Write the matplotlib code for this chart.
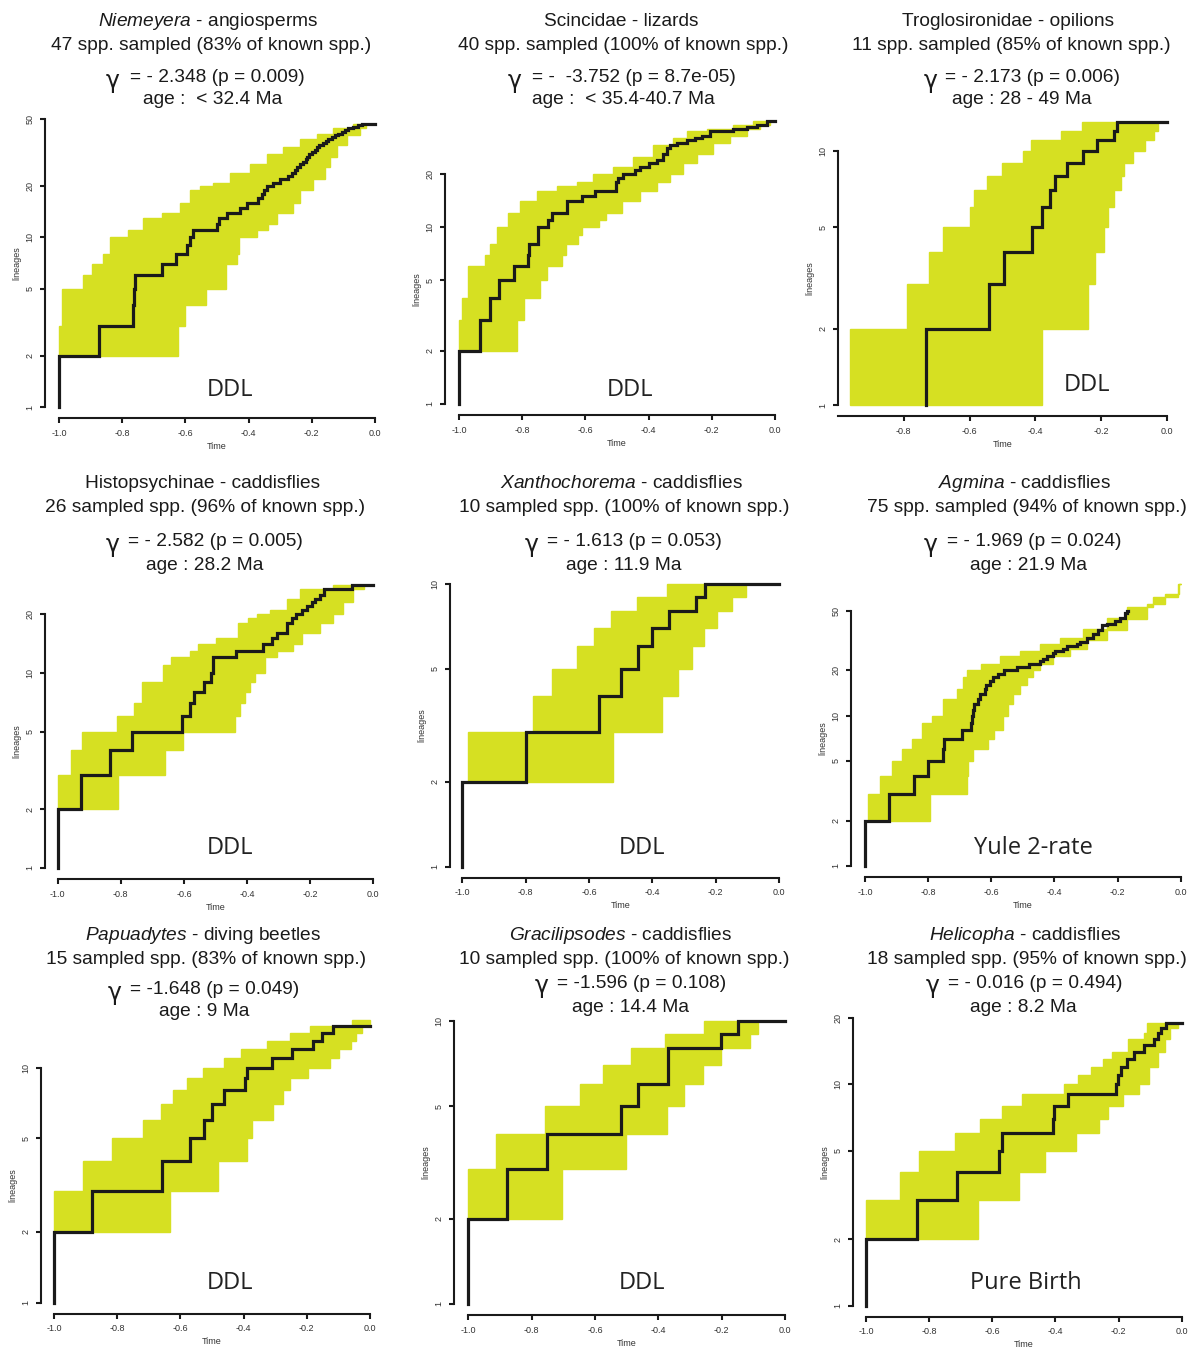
import matplotlib
matplotlib.use('Agg')
import matplotlib.pyplot as plt
from matplotlib.ticker import NullLocator

plt.rcParams['font.family'] = ['Liberation Sans', 'DejaVu Sans']
plt.rcParams['mathtext.fontset'] = 'custom'
plt.rcParams['mathtext.rm'] = 'Liberation Sans'
plt.rcParams['mathtext.it'] = 'Liberation Sans:italic'

W, H = 1200, 1359
YELLOW = '#d6e022'
INK = '#1a1a1a'

# ---------------- data (lineage-through-time, time scaled to -1..0) ----------------
# black line = observed tree: time of each step, lineage count after that step
niem_t = [-1.0, -0.873, -0.767, -0.763, -0.759, -0.673, -0.631, -0.596, -0.585, -0.577,
          -0.499, -0.493, -0.469, -0.427, -0.406, -0.369, -0.359, -0.351, -0.343, -0.322,
          -0.301, -0.274, -0.264, -0.253, -0.248, -0.237, -0.227, -0.218, -0.214, -0.208,
          -0.200, -0.190, -0.185, -0.176, -0.163, -0.155, -0.148, -0.137, -0.127, -0.116,
          -0.105, -0.095, -0.084, -0.069, -0.053, -0.042]
niem_n = [2, 3, 4, 5, 6, 7, 8, 9, 10, 11, 12, 13, 14, 15, 16, 17, 18, 19, 20, 21, 22, 23,
          24, 25, 26, 27, 28, 29, 30, 31, 32, 33, 34, 35, 36, 37, 38, 39, 40, 41, 42, 43,
          44, 45, 46, 47]
# yellow cloud = envelope of the posterior trees (upper / lower step limits)
niem_up_t = [-1.0, -0.992, -0.923, -0.897, -0.860, -0.839, -0.781, -0.733, -0.673, -0.617,
             -0.585, -0.554, -0.512, -0.459, -0.396, -0.343, -0.290, -0.237, -0.185, -0.132, -0.069]
niem_up_n = [3, 5, 6, 7, 8, 10, 11, 13, 14, 16, 19, 20, 21, 24, 27, 31, 34, 38, 41, 44, 47]
niem_lo_t = [-1.0, -0.624, -0.601, -0.535, -0.470, -0.437, -0.430, -0.375, -0.340, -0.311,
             -0.258, -0.237, -0.195, -0.158, -0.142, -0.121, -0.090, -0.048, -0.027]
niem_lo_n = [2, 3, 4, 5, 7, 8, 10, 11, 12, 14, 16, 19, 22, 26, 30, 35, 40, 44, 47]

scin_t = [-1.0, -0.934, -0.902, -0.872, -0.825, -0.781, -0.777, -0.749, -0.719, -0.707,
          -0.659, -0.612, -0.570, -0.503, -0.496, -0.482, -0.443, -0.427, -0.398, -0.374,
          -0.353, -0.343, -0.332, -0.311, -0.280, -0.253, -0.232, -0.206, -0.132, -0.090,
          -0.058, -0.026]
scin_n = [2, 3, 4, 5, 6, 7, 8, 10, 11, 12, 14, 15, 16, 18, 19, 20, 21, 22, 23, 24, 26, 28,
          29, 30, 31, 32, 33, 35, 36, 37, 38, 40]
scin_up_t = [-1.0, -0.992, -0.970, -0.918, -0.902, -0.881, -0.844, -0.807, -0.754, -0.691,
             -0.628, -0.575, -0.512, -0.448, -0.385, -0.322, -0.280, -0.216, -0.132, -0.069]
scin_up_n = [3, 4, 6, 7, 8, 10, 12, 14, 16, 17, 18, 20, 22, 25, 29, 32, 35, 36, 38, 40]
scin_lo_t = [-1.0, -0.815, -0.794, -0.745, -0.722, -0.673, -0.660, -0.623, -0.610, -0.556,
             -0.535, -0.483, -0.427, -0.374, -0.332, -0.290, -0.248, -0.195, -0.142, -0.090,
             -0.048, -0.016]
scin_lo_n = [2, 3, 4, 5, 6, 7, 8, 9, 10, 11, 12, 14, 16, 18, 20, 23, 26, 30, 33, 36, 38, 40]

trog_t = [-0.734, -0.540, -0.494, -0.411, -0.379, -0.355, -0.340, -0.305, -0.254, -0.213,
          -0.162, -0.152]
trog_n = [2, 3, 4, 5, 6, 7, 8, 9, 10, 11, 12, 13]
trog_up_t = [-0.964, -0.790, -0.724, -0.680, -0.599, -0.587, -0.546, -0.503, -0.437, -0.414,
             -0.322, -0.259]
trog_up_n = [2, 3, 4, 5, 6, 7, 8, 9, 10, 11, 12, 13]
trog_lo_t = [-0.964, -0.381, -0.239, -0.220, -0.193, -0.178, -0.162, -0.140, -0.132, -0.104,
             -0.066, -0.041, -0.027]
trog_lo_n = [1, 2, 3, 4, 5, 6, 7, 8, 9, 10, 11, 12, 13]

hist_t = [-1.0, -0.927, -0.834, -0.763, -0.607, -0.581, -0.567, -0.536, -0.515, -0.507,
          -0.435, -0.348, -0.320, -0.306, -0.275, -0.259, -0.245, -0.227, -0.211, -0.195,
          -0.185, -0.169, -0.155, -0.069]
hist_n = [2, 3, 4, 5, 6, 7, 8, 9, 10, 12, 13, 14, 15, 16, 18, 19, 20, 21, 22, 23, 24, 25, 27, 28]
hist_up_t = [-1.0, -0.958, -0.922, -0.813, -0.757, -0.734, -0.665, -0.642, -0.581, -0.557,
             -0.498, -0.428, -0.396, -0.370, -0.327, -0.275, -0.232, -0.127]
hist_up_n = [3, 4, 5, 6, 7, 9, 11, 12, 13, 14, 15, 18, 19, 20, 21, 24, 27, 28]
hist_lo_t = [-1.0, -0.808, -0.660, -0.604, -0.438, -0.422, -0.407, -0.391, -0.375, -0.343,
             -0.306, -0.253, -0.227, -0.169, -0.127, -0.095, -0.064, -0.030]
hist_lo_n = [2, 3, 4, 5, 6, 7, 8, 9, 10, 12, 13, 14, 16, 18, 20, 23, 27, 28]

xant_t = [-1.0, -0.799, -0.568, -0.500, -0.444, -0.400, -0.346, -0.262, -0.234]
xant_n = [2, 3, 4, 5, 6, 7, 8, 9, 10]
xant_up_t = [-1.0, -0.981, -0.778, -0.718, -0.639, -0.583, -0.532, -0.449, -0.355]
xant_up_n = [2, 3, 4, 5, 6, 7, 8, 9, 10]
xant_lo_t = [-1.0, -0.523, -0.371, -0.318, -0.276, -0.237, -0.197, -0.149, -0.105]
xant_lo_n = [2, 3, 4, 5, 6, 7, 8, 9, 10]

agm_t = [-1.000, -0.923, -0.844, -0.799, -0.752, -0.750, -0.694, -0.665, -0.662, -0.659,
         -0.655, -0.641, -0.636, -0.620, -0.617, -0.604, -0.593, -0.578, -0.560, -0.520,
         -0.479, -0.446, -0.435, -0.424, -0.403, -0.398, -0.372, -0.361, -0.329, -0.319,
         -0.298, -0.277, -0.261, -0.250, -0.234, -0.208, -0.192, -0.176, -0.171]
agm_n = [2, 3, 4, 5, 6, 7, 8, 9, 10, 11, 12, 13, 14, 15, 16, 17, 18, 19, 20, 21, 22, 23, 24,
         25, 26, 27, 28, 29, 30, 31, 33, 35, 37, 40, 41, 43, 45, 48, 50]
agm_up_t = [-1.0, -0.989, -0.952, -0.915, -0.884, -0.852, -0.820, -0.789, -0.752, -0.710,
            -0.689, -0.678, -0.631, -0.572, -0.509, -0.446, -0.383, -0.309, -0.235, -0.171,
            -0.087, -0.010]
agm_up_n = [2, 3, 4, 5, 6, 7, 9, 10, 13, 15, 18, 20, 22, 25, 27, 30, 33, 38, 45, 53, 62, 75]
agm_lo_t = [-1.0, -0.794, -0.678, -0.673, -0.657, -0.610, -0.590, -0.562, -0.546, -0.530,
            -0.509, -0.488, -0.467, -0.446, -0.404, -0.351, -0.298, -0.235, -0.171, -0.108,
            -0.050, -0.005]
agm_lo_n = [2, 3, 4, 5, 6, 7, 8, 10, 12, 14, 16, 18, 20, 22, 25, 28, 32, 37, 44, 55, 65, 75]

papu_t = [-1.0, -0.881, -0.659, -0.570, -0.525, -0.501, -0.462, -0.396, -0.388, -0.311,
          -0.248, -0.179, -0.153, -0.116]
papu_n = [2, 3, 4, 5, 6, 7, 8, 9, 10, 11, 12, 13, 14, 15]
papu_up_t = [-1.0, -0.907, -0.818, -0.719, -0.662, -0.622, -0.580, -0.527, -0.462, -0.409,
             -0.327, -0.253, -0.190, -0.058]
papu_up_n = [3, 4, 5, 6, 7, 8, 9, 10, 11, 12, 13, 14, 15, 16]
papu_lo_t = [-1.0, -0.633, -0.480, -0.390, -0.372, -0.306, -0.274, -0.253, -0.195, -0.127,
             -0.097, -0.060, -0.045, -0.026]
papu_lo_n = [2, 3, 4, 5, 6, 7, 8, 9, 10, 11, 12, 13, 14, 15]

grac_t = [-1.0, -0.877, -0.753, -0.519, -0.465, -0.369, -0.368, -0.203, -0.147]
grac_n = [2, 3, 4, 5, 6, 7, 8, 9, 10]
grac_up_t = [-1.0, -0.913, -0.758, -0.647, -0.576, -0.487, -0.379, -0.256]
grac_up_n = [3, 4, 5, 6, 7, 8, 9, 10]
grac_lo_t = [-1.0, -0.703, -0.502, -0.374, -0.319, -0.258, -0.203, -0.111, -0.086]
grac_lo_n = [2, 3, 4, 5, 6, 7, 8, 9, 10]

heli_t = [-1.0, -0.839, -0.713, -0.578, -0.570, -0.407, -0.404, -0.359, -0.208, -0.201,
          -0.193, -0.174, -0.150, -0.121, -0.087, -0.074, -0.065, -0.050]
heli_n = [2, 3, 4, 5, 6, 7, 8, 9, 10, 11, 12, 13, 14, 15, 16, 17, 18, 19]
heli_up_t = [-1.0, -0.892, -0.831, -0.718, -0.639, -0.570, -0.507, -0.372, -0.327, -0.288,
             -0.248, -0.222, -0.169, -0.121, -0.111]
heli_up_n = [3, 4, 5, 6, 7, 8, 9, 10, 11, 12, 13, 14, 16, 17, 19]
heli_lo_t = [-1.0, -0.644, -0.514, -0.433, -0.335, -0.261, -0.235, -0.185, -0.134, -0.102,
             -0.074, -0.053, -0.037, -0.011]
heli_lo_n = [2, 3, 4, 5, 6, 7, 8, 9, 10, 12, 14, 16, 18, 19]

titles = [r'$\mathit{Niemeyera}$ - angiosperms', 'Scincidae - lizards',
          'Troglosironidae - opilions', 'Histopsychinae - caddisflies',
          r'$\mathit{Xanthochorema}$ - caddisflies', r'$\mathit{Agmina}$ - caddisflies',
          r'$\mathit{Papuadytes}$ - diving beetles', r'$\mathit{Gracilipsodes}$ - caddisflies',
          r'$\mathit{Helicopha}$ - caddisflies']
samples = ['47 spp. sampled (83% of known spp.)', '40 spp. sampled (100% of known spp.)',
           '11 spp. sampled (85% of known spp.)', '26 sampled spp. (96% of known spp.)',
           '10 sampled spp. (100% of known spp.)', '75 spp. sampled (94% of known spp.)',
           '15 sampled spp. (83% of known spp.)', '10 sampled spp. (100% of known spp.)',
           '18 sampled spp. (95% of known spp.)']
gammas = ['= - 2.348 (p = 0.009)', '= -  -3.752 (p = 8.7e-05)', '= - 2.173 (p = 0.006)',
          '= - 2.582 (p = 0.005)', '= - 1.613 (p = 0.053)', '= - 1.969 (p = 0.024)',
          '= -1.648 (p = 0.049)', '= -1.596 (p = 0.108)', '= - 0.016 (p = 0.494)']
ages = ['age :  < 32.4 Ma', 'age :  < 35.4-40.7 Ma', 'age : 28 - 49 Ma', 'age : 28.2 Ma',
        'age : 11.9 Ma', 'age : 21.9 Ma', 'age : 9 Ma', 'age : 14.4 Ma', 'age : 8.2 Ma']
models = ['DDL', 'DDL', 'DDL', 'DDL', 'DDL', 'Yule 2-rate', 'DDL', 'DDL', 'Pure Birth']

series = [
    (niem_t, niem_n, niem_up_t, niem_up_n, niem_lo_t, niem_lo_n),
    (scin_t, scin_n, scin_up_t, scin_up_n, scin_lo_t, scin_lo_n),
    (trog_t, trog_n, trog_up_t, trog_up_n, trog_lo_t, trog_lo_n),
    (hist_t, hist_n, hist_up_t, hist_up_n, hist_lo_t, hist_lo_n),
    (xant_t, xant_n, xant_up_t, xant_up_n, xant_lo_t, xant_lo_n),
    (agm_t, agm_n, agm_up_t, agm_up_n, agm_lo_t, agm_lo_n),
    (papu_t, papu_n, papu_up_t, papu_up_n, papu_lo_t, papu_lo_n),
    (grac_t, grac_n, grac_up_t, grac_up_n, grac_lo_t, grac_lo_n),
    (heli_t, heli_n, heli_up_t, heli_up_n, heli_lo_t, heli_lo_n),
]

# ---------------- layout (pixels) ----------------
# plot box: x of time -1, x of time 0, y of 1 lineage, y of top tick
boxes = [(59, 375, 407, 119), (459, 775, 404, 174), (838, 1167, 405, 151),
         (57.7, 373.3, 868, 614), (462.3, 779, 866.7, 583.7), (865, 1180.7, 866, 610.7),
         (54, 370, 1302.7, 1067.7), (468.3, 785, 1304, 1021), (866, 1181.7, 1305.7, 1017.7)]
ytops = [50, 20, 10, 20, 10, 50, 10, 10, 20]
black_end = [0.0, 0.0, 0.0, 0.0, 0.0, -0.168, 0.0, 0.0, 0.0]
cloud_end = [0.0, 0.0, -0.027, -0.06, -0.105, 0.0, 0.0, -0.086, -0.005]
left_off = [14, 14, 0, 12.7, 12.3, 14, 13, 14, 12.7]
col_x = [208, 621, 1008, 203, 621, 1025, 203, 621, 1025]
sub_x = [211, 623, 1011, 205, 624, 1027, 206, 624, 1027]
title_y = [22, 22, 22, 484, 484, 484, 936, 936, 936]
sub_y = [45, 45, 45, 507, 507, 507, 960, 960, 960]
gam_x = [113, 515, 931, 113, 532, 931, 115, 542, 933]
eq_x = [130, 532, 945, 128, 547, 947, 130, 557, 948]
eq_y = [78, 78, 78, 542, 542, 542, 990, 983, 983]
age_x = [213, 623, 1022, 205, 624, 1028, 204, 630, 1023]
age_y = [100, 100, 100, 565, 565, 565, 1012, 1007, 1007]
mod_x = [230, 630, 1087, 230, 642, 1033, 230, 642, 1026]
mod_y = [390, 390, 385, 848, 848, 848, 1283, 1283, 1283]

PT = 72 / 100.0  # pixels -> points at dpi 100


def steps(t, n, end):
    xs, ys = [t[0]], [n[0]]
    for i in range(1, len(t)):
        xs += [t[i], t[i]]
        ys += [n[i - 1], n[i]]
    xs.append(end)
    ys.append(n[-1])
    return xs, ys


def fx(px):
    return px / W


def fy(py):
    return 1 - py / H


fig = plt.figure(figsize=(W / 100, H / 100), dpi=100)

for i in range(9):
    bt, bn, ut, un, lt, ln = series[i]
    xl, xr, yb, yt = boxes[i]
    ax = fig.add_axes([fx(xl), fy(yb), (xr - xl) / W, (yb - yt) / H])
    ax.set_yscale('log')
    ax.set_xlim(-1, 0)
    ax.set_ylim(1, ytops[i])

    ux, uy = steps(ut, un, cloud_end[i])
    lx, ly = steps(lt, ln, cloud_end[i])
    ax.fill(ux + lx[::-1], uy + ly[::-1], color=YELLOW, lw=1.0, clip_on=False, zorder=2)

    bx, by = steps([bt[0]] + bt, [1] + bn, black_end[i])
    ax.plot(bx, by, color=INK, lw=2.3, solid_joinstyle='miter', clip_on=False, zorder=3)

    for s in ['top', 'right']:
        ax.spines[s].set_visible(False)
    ax.spines['left'].set_position(('outward', left_off[i] * PT))
    ax.spines['bottom'].set_position(('outward', 11 * PT))
    for s in ['left', 'bottom']:
        ax.spines[s].set_linewidth(1.5)
        ax.spines[s].set_color(INK)
    ax.spines['left'].set_bounds(1, ytops[i])

    yt_vals = [v for v in [1, 2, 5, 10, 20, 50] if v <= ytops[i]]
    ax.yaxis.set_minor_locator(NullLocator())
    ax.set_yticks(yt_vals)
    ax.set_yticklabels([str(v) for v in yt_vals], rotation=90, va='center')
    if i == 2:
        xt = [-0.8, -0.6, -0.4, -0.2, 0.0]
    else:
        xt = [-1.0, -0.8, -0.6, -0.4, -0.2, 0.0]
    ax.set_xticks(xt)
    ax.set_xticklabels(['%.1f' % v for v in xt])
    ax.tick_params(length=5 * PT, width=1.5, color=INK, labelsize=6.5,
                   labelcolor='#333333', pad=4)
    ax.set_xlabel('Time', fontsize=6.5, color='#333333', labelpad=3)
    ax.set_ylabel('lineages', fontsize=6.5, color='#333333', labelpad=3)
    ax.patch.set_visible(False)

    fig.text(fx(col_x[i]), fy(title_y[i]), titles[i], ha='center', va='center',
             fontsize=13.8, color=INK)
    fig.text(fx(sub_x[i]), fy(sub_y[i]), samples[i], ha='center', va='center',
             fontsize=13.8, color=INK)
    fig.text(fx(gam_x[i]), fy(eq_y[i] + 3), '\u03b3', ha='center', va='center',
             fontsize=17, color=INK, family='DejaVu Sans')
    fig.text(fx(eq_x[i]), fy(eq_y[i]), gammas[i], ha='left', va='center',
             fontsize=13.8, color=INK)
    fig.text(fx(age_x[i]), fy(age_y[i]), ages[i], ha='center', va='center',
             fontsize=13.8, color=INK)
    fig.text(fx(mod_x[i]), fy(mod_y[i]), models[i], ha='center', va='center',
             fontsize=17, color='#222222', family='Open Sans')

fig.savefig('out.png', dpi=100)
